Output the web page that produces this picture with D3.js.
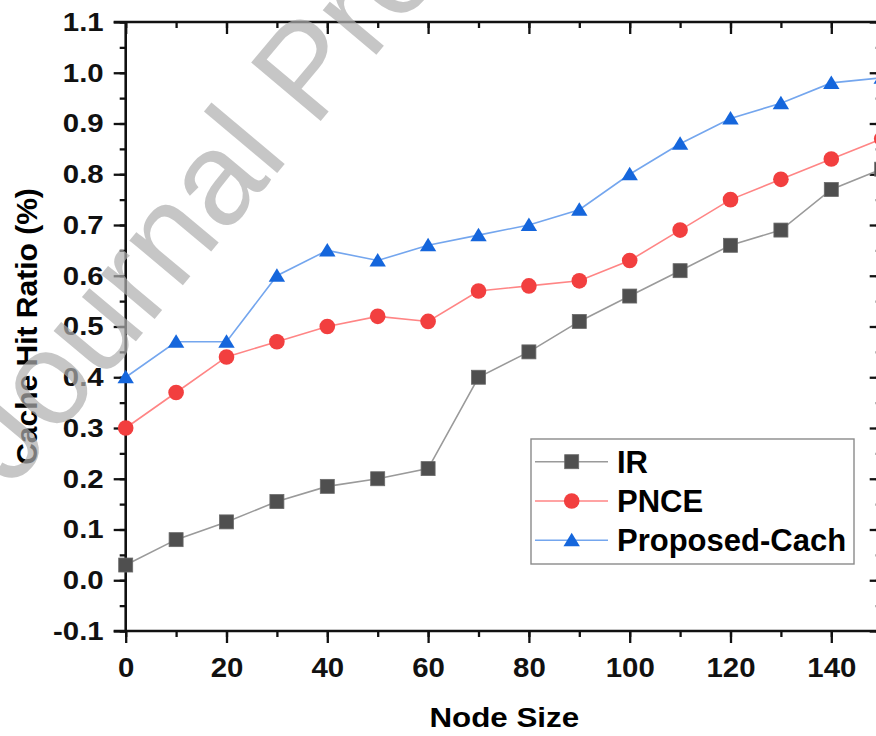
<!DOCTYPE html>
<html>
<head>
<meta charset="utf-8">
<script src="https://cdn.jsdelivr.net/npm/d3@7/dist/d3.min.js"></script>
<style>
body { margin: 0; background: #fff; }
svg { display: block; }
text { font-family: "Liberation Sans", Arial, sans-serif; font-weight: bold; }
</style>
</head>
<body>
<script>
// chart data
var nodeSize = [0, 10, 20, 30, 40, 50, 60, 70, 80, 90, 100, 110, 120, 130, 140, 150];
var irValues = [0.03, 0.08, 0.115, 0.155, 0.185, 0.2, 0.22, 0.40, 0.45, 0.51, 0.56, 0.61, 0.66, 0.69, 0.77, 0.81];
var pnceValues = [0.30, 0.37, 0.44, 0.47, 0.50, 0.52, 0.51, 0.57, 0.58, 0.59, 0.63, 0.69, 0.75, 0.79, 0.83, 0.87];
var proposedValues = [0.40, 0.47, 0.47, 0.60, 0.65, 0.63, 0.66, 0.68, 0.70, 0.73, 0.80, 0.86, 0.91, 0.94, 0.98, 0.99];
var seriesNames = ["IR", "PNCE", "Proposed-Cach"];
var xTicks = [0, 20, 40, 60, 80, 100, 120, 140];
var yTicks = [-0.1, 0, 0.1, 0.2, 0.3, 0.4, 0.5, 0.6, 0.7, 0.8, 0.9, 1.0, 1.1];

var width = 876,
	height = 736;
var margin = {left: 125.7, top: 22};
var plotW = 756, plotH = 609;

var svg = d3.select("body").append("svg")
	.attr("width", width)
	.attr("height", height);

var x = d3.scaleLinear().domain([0, 150]).range([margin.left, margin.left + plotW]);
var y = d3.scaleLinear().domain([-0.1, 1.1]).range([margin.top + plotH, margin.top]);

var series = [
	{name: seriesNames[0], values: irValues, line: "#9a9a9a", fill: "#4f4f4f", shape: "square"},
	{name: seriesNames[1], values: pnceValues, line: "#ff8585", fill: "#f23f3f", shape: "circle"},
	{name: seriesNames[2], values: proposedValues, line: "#74a6ee", fill: "#1566dc", shape: "triangle"}
];

// stretch text horizontally a bit (the picture's lettering is wide)
function stretch(sel, f) {
	sel.each(function() {
		var w = this.getComputedTextLength();
		d3.select(this).attr("textLength", w * f).attr("lengthAdjust", "spacingAndGlyphs");
	});
}

function drawMarker(g, shape, fill) {
	if (shape == "square") {
		g.append("rect").attr("x", -7).attr("y", -7).attr("width", 14).attr("height", 14)
			.attr("fill", fill).attr("stroke", "#6a6a6a").attr("stroke-width", 0.8);
	} else if (shape == "circle") {
		g.append("circle").attr("r", 7.8).attr("fill", fill);
	} else {
		g.append("path").attr("d", "M0,-7.5L8.2,6L-8.2,6Z").attr("fill", fill);
	}
}

var fmtY = function(d){ return d3.format(".1f")(d).replace("\u2212", "-") };

var minorX = d3.range(0, 151, 10);
var minorY = d3.range(-0.1, 1.11, 0.05).map(function(d){ return Math.round(d * 100) / 100 });

// bottom axis
var bottomAx = svg.append("g").attr("transform", "translate(0," + y(-0.1) + ")")
	.call(d3.axisBottom(x).tickValues(minorX).tickSize(6).tickFormat(""));
bottomAx.append("g")
	.call(d3.axisBottom(x).tickValues(xTicks).tickSize(12).tickPadding(14).tickFormat(d3.format("d")));

// left axis
var leftAx = svg.append("g").attr("transform", "translate(" + x(0) + ",0)")
	.call(d3.axisLeft(y).tickValues(minorY).tickSize(6).tickFormat(""));
leftAx.append("g")
	.call(d3.axisLeft(y).tickValues(yTicks).tickSize(12).tickPadding(10).tickFormat(fmtY));

// top and right mirror ticks point inward
var topAx = svg.append("g").attr("transform", "translate(0," + y(1.1) + ")")
	.call(d3.axisTop(x).tickValues(minorX).tickSize(-6).tickFormat(""));
topAx.append("g").call(d3.axisTop(x).tickValues(xTicks).tickSize(-12).tickFormat(""));
var rightAx = svg.append("g").attr("transform", "translate(" + x(150) + ",0)")
	.call(d3.axisRight(y).tickValues(minorY).tickSize(-6).tickFormat(""));
rightAx.append("g").call(d3.axisRight(y).tickValues(yTicks).tickSize(-12).tickFormat(""));

svg.selectAll(".domain").remove();
svg.selectAll(".tick line").attr("stroke", "#111").attr("stroke-width", 2.3);
svg.selectAll(".tick text").attr("fill", "#111");

bottomAx.selectAll(".tick text").style("font-size", "28px").call(stretch, 1.05);
leftAx.selectAll(".tick text").style("font-size", "26px").call(stretch, 1.13);

// frame
var frame = svg.append("g").attr("stroke", "#111").attr("stroke-width", 2.6);
frame.append("line").attr("x1", x(0) - 12).attr("x2", x(150) + 2).attr("y1", y(-0.1)).attr("y2", y(-0.1));
frame.append("line").attr("x1", x(0) - 12).attr("x2", x(150) + 2).attr("y1", y(1.1)).attr("y2", y(1.1));
frame.append("line").attr("x1", x(0)).attr("x2", x(0)).attr("y1", y(1.1)).attr("y2", y(-0.1));
frame.append("line").attr("x1", x(150)).attr("x2", x(150)).attr("y1", y(1.1)).attr("y2", y(-0.1));

// lines + markers
var line = d3.line()
	.x(function(d, i){ return x(nodeSize[i]) })
	.y(function(d){ return y(d) });

series.forEach(function(s) {
	svg.append("path")
		.datum(s.values)
		.attr("fill", "none")
		.attr("stroke", s.line)
		.attr("stroke-width", 1.6)
		.attr("d", line);
	svg.append("g").selectAll("g")
		.data(s.values)
		.enter().append("g")
		.attr("transform", function(d, i){ return "translate(" + x(nodeSize[i]) + "," + y(d) + ")" })
		.each(function(){ drawMarker(d3.select(this), s.shape, s.fill) });
});

// axis titles
svg.append("text")
	.attr("x", margin.left + plotW / 2 + 0.6)
	.attr("y", 727.3)
	.attr("text-anchor", "middle")
	.style("font-size", "27px")
	.text("Node Size")
	.call(stretch, 1.16);

svg.append("text")
	.attr("transform", "translate(37," + (margin.top + plotH / 2) + ") rotate(-90)")
	.attr("text-anchor", "middle")
	.style("font-size", "30px")
	.text("Cache Hit Ratio (%)");

// legend
var legend = svg.append("g").attr("transform", "translate(531,439)");
legend.append("rect")
	.attr("width", 323).attr("height", 125)
	.attr("fill", "#fff").attr("stroke", "#8a8a8a").attr("stroke-width", 1.4);
series.forEach(function(s, i) {
	var row = legend.append("g").attr("transform", "translate(0," + (22.7 + i * 39.3) + ")");
	row.append("line").attr("x1", 4).attr("x2", 77).attr("stroke", s.line).attr("stroke-width", 1.6);
	drawMarker(row.append("g").attr("transform", "translate(40.7,0)"), s.shape, s.fill);
	row.append("text")
		.attr("x", 86).attr("y", 11)
		.style("font-size", "31px")
		.text(s.name);
});

// watermark sits over the chart
svg.append("text")
	.attr("transform", "translate(12,489) rotate(-50)")
	.style("font-size", "132px")
	.style("font-weight", "normal")
	.attr("fill", "#afafaf")
	.attr("opacity", 0.7)
	.text("Journal Pre-proof");
</script>
</body>
</html>
